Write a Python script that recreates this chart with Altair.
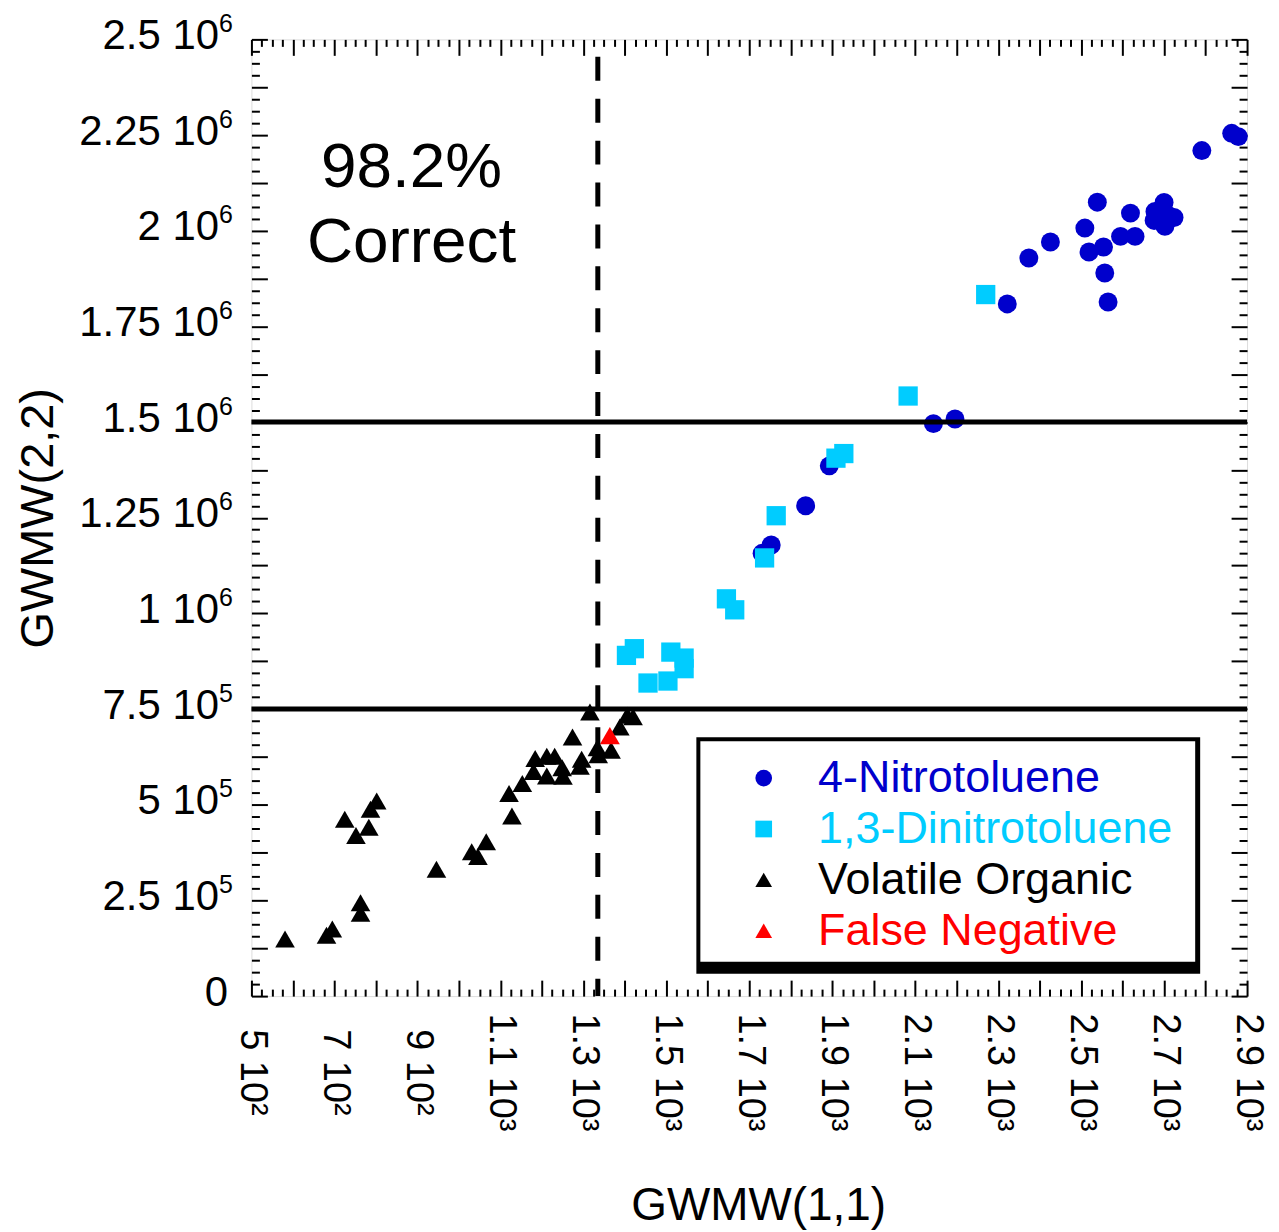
import altair as alt
import pandas as pd

# ---------------- data ----------------
nitro_x = [2863, 2879, 2791, 2539, 2619, 2700, 2678, 2676, 2702, 2724, 2707, 2509, 2426,
           2374, 2595, 2630, 2554, 2519, 2557, 2565, 2322, 2144, 2196, 1893, 1836, 1753, 1731]
nitro_y = [2254500, 2245900, 2209400, 2074600, 2046000, 2073900, 2050400, 2026900, 2011300,
           2034700, 2042600, 2006900, 1970400, 1928700, 1985200, 1985200, 1957300, 1944300,
           1889600, 1813900, 1808700, 1495900, 1508100, 1385600, 1281300, 1178900, 1157000]

dnt_x = [2270, 2083, 1928, 1909, 1765, 1737, 1645, 1665, 1404, 1423, 1511, 1543, 1543, 1456, 1504]
dnt_y = [1833200, 1568100, 1417700, 1405700, 1255300, 1145000, 1038100, 1009400, 890300,
         907800, 898900, 883300, 855600, 818100, 823300]

voc_x = [581, 681, 695, 763, 763, 946, 725, 752, 783, 787, 802, 1031, 1046, 1066, 1128, 1121,
         1153, 1184, 1212, 1231, 1180, 1212, 1249, 1251, 1274, 1296, 1292, 1316, 1334, 1336,
         1367, 1406, 1420, 1388]
voc_y = [149100, 159000, 175200, 216400, 243800, 331600, 462000, 419700, 441100, 488000,
         509700, 377500, 364500, 403600, 470600, 529700, 555800, 621000, 627000, 627000,
         586600, 575400, 597000, 574800, 677300, 619200, 600900, 742500, 649100, 630900,
         642600, 733900, 730000, 703400]

fneg_x = [1364]
fneg_y = [680400]

series_names = ["4-Nitrotoluene", "1,3-Dinitrotoluene", "Volatile Organic", "False Negative"]
series_colors = ["#0000CC", "#00CCFF", "#000000", "#FF0000"]
series_shapes = ["circle", "square", "triangle-up", "triangle-up"]
series_sizes = [360, 400, 650, 700]

x_domain = [500, 2900]
y_domain = [0, 2500000]
x_tick_values = [500, 700, 900, 1100, 1300, 1500, 1700, 1900, 2100, 2300, 2500, 2700, 2900]
x_tick_labels = ["5 10²", "7 10²", "9 10²", "1.1 10³", "1.3 10³", "1.5 10³", "1.7 10³",
                 "1.9 10³", "2.1 10³", "2.3 10³", "2.5 10³", "2.7 10³", "2.9 10³"]
y_tick_values = [0, 250000, 500000, 750000, 1000000, 1250000, 1500000, 1750000, 2000000,
                 2250000, 2500000]
y_tick_mantissa = ["0", "2.5 10", "5 10", "7.5 10", "1 10", "1.25 10", "1.5 10",
                   "1.75 10", "2 10", "2.25 10", "2.5 10"]
y_tick_exponent = ["", "5", "5", "5", "6", "6", "6", "6", "6", "6", "6"]
x_minor_ticks = list(range(500, 2901, 25))
y_minor_ticks = list(range(0, 2500001, 31250))

thresholds_y = [750000, 1500000]
threshold_x = [1335]

annotation_lines = ["98.2%", "Correct"]
annotation_x = [886]
annotation_y = [2115000]

x_title = "GWMW(1,1)"
y_title = "GWMW(2,2)"

# ---------------- tables ----------------
rows = []
for name, xs, ys in [(series_names[0], nitro_x, nitro_y), (series_names[1], dnt_x, dnt_y),
                     (series_names[2], voc_x, voc_y), (series_names[3], fneg_x, fneg_y)]:
    for xv, yv in zip(xs, ys):
        rows.append({"x": xv, "y": yv, "series": name, "shade": "_" + name, "panel": "~" + name})
pts = pd.DataFrame(rows)
shade_names = ["_" + n for n in series_names]
panel_names = ["~" + n for n in series_names]
hdf = pd.DataFrame({"y": thresholds_y})
vdf = pd.DataFrame({"x": threshold_x, "y": [y_domain[1]], "y2": [y_domain[0]]})
tdf = pd.DataFrame({"x": annotation_x, "y": annotation_y, "t": ["\n".join(annotation_lines)]})

W, H = 998, 959
FONT = "Liberation Sans"

xscale = alt.Scale(domain=x_domain, nice=False, zero=False)
yscale = alt.Scale(domain=y_domain, nice=False, zero=False)


def lab_expr(vals, labs):
    return ("[" + ",".join("'" + l + "'" for l in labs) + "][indexof(["
            + ",".join(str(v) for v in vals) + "], datum.value)]")


x_label_axis = alt.Axis(orient="bottom", values=x_tick_values, labelExpr=lab_expr(x_tick_values, x_tick_labels),
                        labelAngle=90, labelAlign="center", labelBaseline="middle", labelPadding=76,
                        ticks=False, tickSize=0, domain=False, grid=False, labelFontSize=38, labelFont=FONT,
                        labelColor="black", labelOverlap=False, labelFlush=False,
                        title=x_title, titleFont=FONT, titleFontSize=46, titleFontWeight="normal",
                        titleColor="black", titlePadding=53, titleX=508)
y_label_axis = alt.Axis(orient="left", values=y_tick_values,
                        labelExpr=lab_expr(y_tick_values, y_tick_mantissa),
                        labelAlign="right", labelBaseline="middle",
                        labelPadding={"condition": {"test": "datum.value === 0", "value": 24}, "value": 33},
                        labelOffset=-4,
                        ticks=False, tickSize=0, domain=False, grid=False, labelFontSize=42, labelFont=FONT,
                        labelColor="black", labelOverlap=False, labelFlush=False,
                        title=y_title, titleFont=FONT, titleFontSize=47, titleFontWeight="normal",
                        titleColor="black", titlePadding=16)
y_exp_axis = alt.Axis(orient="left", values=y_tick_values,
                      labelExpr=lab_expr(y_tick_values, y_tick_exponent),
                      labelAlign="left", labelBaseline="middle", labelPadding=33, labelOffset=-16,
                      ticks=False, tickSize=0, domain=False, grid=False, labelFontSize=25, labelFont=FONT,
                      labelColor="black", labelOverlap=False, labelFlush=False, title=None)

x_tick_size = {"condition": {"test": "datum.value % 100 === 0", "value": 16}, "value": 7}
y_tick_size = {"condition": {"test": "datum.value % 125000 === 0", "value": 16}, "value": 8}


def tick_axis(orient, vals, size, off):
    return alt.Axis(orient=orient, values=vals, labels=False, domain=False, grid=False, ticks=True,
                    tickSize=size, tickWidth=2, tickColor="black", title=None, offset=off)


bottom_ticks = tick_axis("top", x_minor_ticks, x_tick_size, -H)
top_ticks = tick_axis("bottom", x_minor_ticks, x_tick_size, -H)
left_ticks = tick_axis("right", y_minor_ticks, y_tick_size, -W)
right_ticks = tick_axis("left", y_minor_ticks, y_tick_size, -W)

color_expr = ""
for n, c in zip(series_names, series_colors):
    color_expr += "datum.value === '" + n + "' ? '" + c + "' : "
color_expr += "'black'"

# legend: black frame/shadow box, white panel, then the entries on top
LEG_X, LEG_Y = 450, 703.5
common_leg = dict(title=" ", titleFontSize=2, titlePadding=5, orient="none",
                  labelFontSize=45, labelFont=FONT, labelLimit=700, rowPadding=5)
main_legend = alt.Legend(legendX=LEG_X, legendY=LEG_Y, padding=7.5, symbolOffset=33.5, labelOffset=32,
                         labelColor={"expr": color_expr}, symbolSize=280, symbolStrokeWidth=0,
                         symbolOpacity=1, zindex=3, **common_leg)
panel_legend = alt.Legend(legendX=LEG_X, legendY=LEG_Y, padding=7.5, symbolOffset=436, labelOffset=0,
                          fillColor="white", labelColor="white", symbolFillColor="white",
                          symbolStrokeColor="white", labelExpr="''", zindex=2, **common_leg)
shadow_legend = alt.Legend(legendX=LEG_X - 4, legendY=LEG_Y - 4, padding=15.5, symbolOffset=429,
                           labelOffset=0, fillColor="black", labelColor="black", symbolFillColor="black",
                           symbolStrokeColor="black", labelExpr="''", zindex=1, **common_leg)

points = alt.Chart(pts).mark_point(filled=True, strokeWidth=0).encode(
    x=alt.X("x:Q", scale=xscale, axis=x_label_axis),
    y=alt.Y("y:Q", scale=yscale, axis=y_label_axis),
    color=alt.Color("series:N", scale=alt.Scale(domain=series_names, range=series_colors), legend=main_legend),
    shape=alt.Shape("series:N", scale=alt.Scale(domain=series_names, range=series_shapes), legend=main_legend),
    size=alt.Size("shade:N", scale=alt.Scale(domain=shade_names, range=series_sizes),
                  legend=shadow_legend),
    opacity=alt.Opacity("panel:N", scale=alt.Scale(domain=panel_names, range=[1, 1, 1, 1]),
                        legend=panel_legend),
)

hrule = alt.Chart(hdf).mark_rule(strokeWidth=5, color="black").encode(
    y=alt.Y("y:Q", scale=yscale, axis=y_exp_axis))

vrule = alt.Chart(vdf).mark_rule(strokeWidth=5, color="black", strokeDash=[24, 18],
                                 strokeDashOffset=24.5).encode(
    x=alt.X("x:Q", scale=xscale, axis=bottom_ticks),
    y=alt.Y("y:Q", scale=yscale, axis=left_ticks),
    y2="y2:Q")

txt = alt.Chart(tdf).mark_text(fontSize=64, font=FONT, lineBreak="\n", lineHeight=75, align="center",
                               baseline="alphabetic", color="black").encode(
    x=alt.X("x:Q", scale=xscale, axis=top_ticks),
    y=alt.Y("y:Q", scale=yscale, axis=right_ticks),
    text="t:N")

chart = alt.layer(points, hrule, vrule, txt).resolve_axis(
    x="independent", y="independent"
).properties(
    width=W, height=H, padding={"left": 6, "top": 2, "right": 4, "bottom": 0}
).configure_view(stroke="black", strokeWidth=2).configure_legend(
    strokeWidth=0
).configure(font=FONT, background="white")

chart.save("out.html", embed_options={"renderer": "svg", "actions": False})
